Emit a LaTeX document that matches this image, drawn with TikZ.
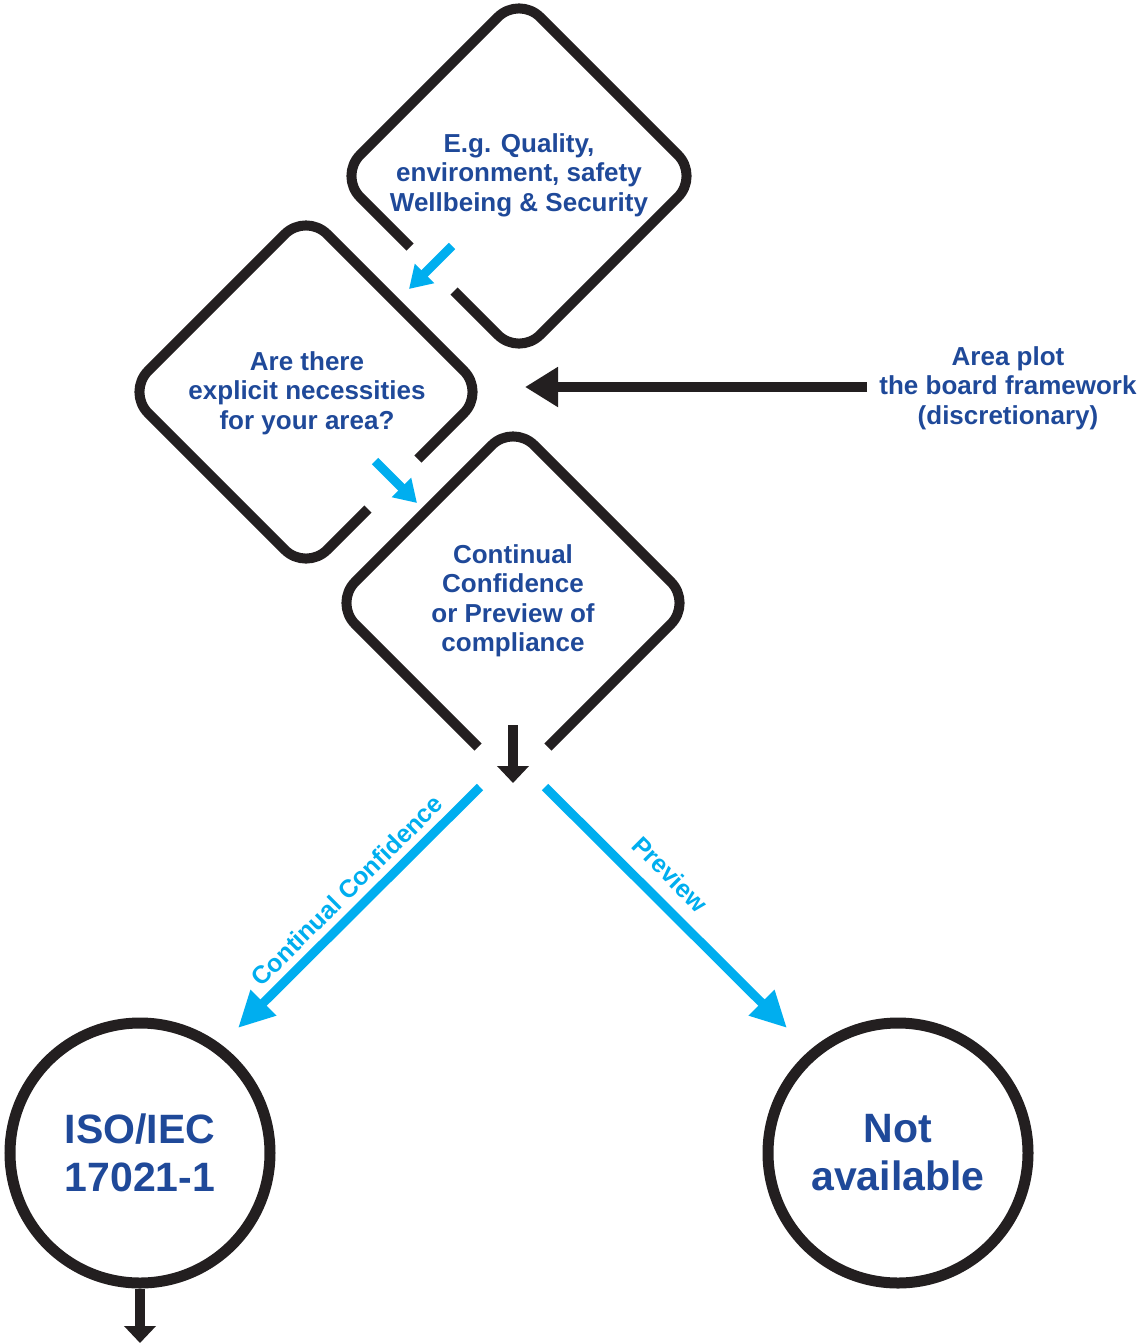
\documentclass[tikz,border=0pt]{standalone}
\usepackage{fontspec}
\setmainfont{Liberation Sans}
\usetikzlibrary{arrows.meta}
\definecolor{ttblue}{RGB}{31,73,153}
\definecolor{ttcyan}{RGB}{0,174,239}
\definecolor{ttblack}{RGB}{35,31,32}

\begin{document}
\begin{tikzpicture}[x=1pt,y=-1pt,
    qtext/.style={text=ttblue,font=\bfseries\fontsize{26}{29.5}\selectfont,align=center,inner sep=0pt},
    endcircle/.style={circle,draw=ttblack,line width=11pt,minimum size=260pt,inner sep=0pt,
      text=ttblue,font=\bfseries\fontsize{41}{48}\selectfont,align=center},
    outline/.style={draw=ttblack,line width=10pt,rounded corners=30pt},
    stepin/.style={draw=ttcyan,line width=9pt,-{Triangle[length=22pt,width=26pt]}},
    branch/.style={draw=ttcyan,line width=9pt,-{Triangle[length=36pt,width=34pt]}},
    blackarrow/.style={draw=ttblack,line width=10pt,-{Triangle[length=17pt,width=31pt]}},
    branchlabel/.style={sloped,text=ttcyan,font=\bfseries\fontsize{25}{29}\selectfont,inner sep=4pt}]
  \useasboundingbox (0,0) rectangle (1141,1344);

  % text of the three diamonds
  \node[qtext] (scope) at (519,175) {E.g. Quality,\\environment, safety\\Wellbeing \& Security};
  \node[qtext] (need) at (307,393) {Are there\\explicit necessities\\for your area?};
  \node[qtext] (mode) at (513,601) {Continual\\Confidence\\or Preview of\\compliance};
  \node[qtext] (board) at (1008,388) {Area plot\\the board framework\\(discretionary)};

  % diamonds, each with a gap
  \draw[outline] (454,291) -- (519,356) -- (699,176) -- (519,-4) -- (339,176) -- (410,247);
  \draw[outline] (368,509) -- (306,571) -- (127,392) -- (306,213) -- (485,392) -- (418,459);
  \draw[outline] (548,747) -- (692,603) -- (513,424) -- (334,603) -- (478,747);

  % end points
  \node[endcircle] (iso) at (140,1153) {ISO/IEC\\17021-1};
  \node[endcircle] (na) at (898,1153) {Not\\available};

  \coordinate (in1a) at (452,246);
  \coordinate (in1b) at (409,289);
  \coordinate (in2a) at (375,461);
  \coordinate (in2b) at (417,503);
  \coordinate (boardtip) at (525,387);
  \coordinate (outa) at (513,725);
  \coordinate (outb) at (513,783);
  \coordinate (ccstart) at (480,787);
  \coordinate (ccend) at (238,1028);
  \coordinate (pvstart) at (545,787);
  \coordinate (pvend) at (787,1028);
  \coordinate (isoout) at (140,1343);

  \draw[stepin] (in1a) -- (in1b);
  \draw[stepin] (in2a) -- (in2b);
  \draw[blackarrow,-{Triangle[length=33pt,width=38pt]}] (board.west |- boardtip) ++(-12,0) -- (boardtip);
  \draw[blackarrow] (outa) -- (outb);
  \draw[branch] (ccstart) -- node[branchlabel,above=3pt,pos=0.49] {Continual Confidence} (ccend);
  \draw[branch] (pvstart) -- node[branchlabel,above=9pt,pos=0.44] {Preview} (pvend);
  \draw[blackarrow] (iso.south) -- (isoout);
\end{tikzpicture}
\end{document}
